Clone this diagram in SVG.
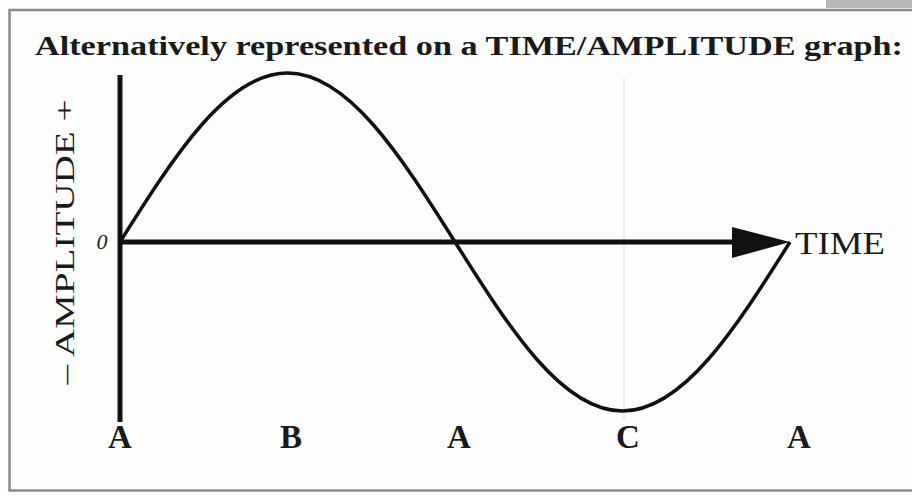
<svg xmlns="http://www.w3.org/2000/svg" width="912" height="496" viewBox="0 0 912 496">
<style>
.t{font-family:"Liberation Serif","DejaVu Serif",serif;fill:#1a1a1a}
.lbl{font-size:33px;font-weight:bold;text-anchor:middle}
.axis{stroke:#111;stroke-width:5;fill:none}
.wave{stroke:#111;stroke-width:3.5;fill:none}
</style>
<rect x="0" y="0" width="912" height="496" fill="#fdfdfd"/>
<rect x="826" y="0" width="86" height="8" fill="#b8b8b8"/>
<path d="M912,10 H9.5 V490.5 H912" stroke="#8a8a8a" stroke-width="2.5" fill="none"/>
<g id="title"><text class="t" x="35" y="55" font-size="28" font-weight="bold" textLength="868" lengthAdjust="spacingAndGlyphs">Alternatively represented on a TIME/AMPLITUDE graph:</text></g>
<line x1="624" y1="78" x2="624" y2="420" stroke="#ececec" stroke-width="2"/>
<g id="connectors">
<line class="axis" x1="120" y1="75" x2="120" y2="422"/>
<line class="axis" x1="120" y1="242" x2="740" y2="242"/>
<polygon points="732,227 790,242 732,258" fill="#111"/>
<path class="wave" d="M120,242 C174.6,155.4 226.9,73 287.5,73 C348.1,73 400.4,155.4 455,242 C509.6,328.6 561.9,411 622.5,411 C683.1,411 735.4,328.6 790,242"/>
</g>
<g id="y-label"><text class="t" transform="translate(74,242) rotate(-90)" font-size="28" text-anchor="middle" textLength="285" lengthAdjust="spacingAndGlyphs">– AMPLITUDE +</text></g>
<g id="zero"><text class="t" x="102" y="249" font-size="22" font-style="italic" text-anchor="middle">0</text></g>
<g id="time-label"><text class="t" x="795" y="254" font-size="32" textLength="90" lengthAdjust="spacingAndGlyphs">TIME</text></g>
<g id="labels">
<text class="t lbl" x="120" y="448">A</text>
<text class="t lbl" x="291" y="448">B</text>
<text class="t lbl" x="459" y="448">A</text>
<text class="t lbl" x="628" y="448">C</text>
<text class="t lbl" x="799" y="448">A</text>
</g>
</svg>
